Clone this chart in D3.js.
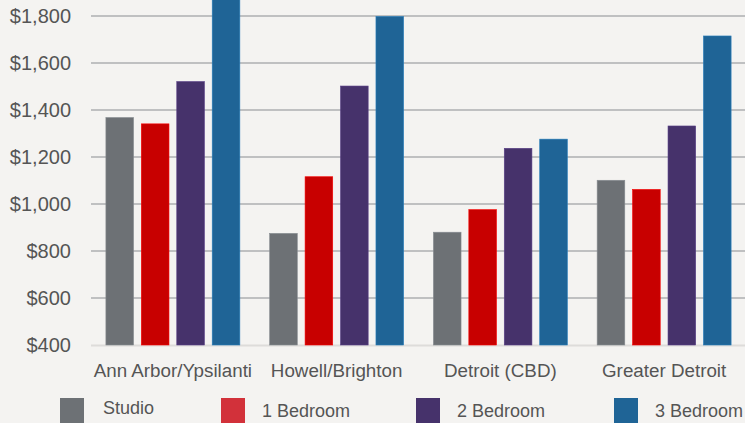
<!DOCTYPE html>
<html>
<head>
<meta charset="utf-8">
<script src="https://cdn.jsdelivr.net/npm/d3@7"></script>
<style>
	body { margin: 0; background: #f4f3f1; }
	svg { display: block; font-family: "Liberation Sans", Arial, sans-serif; }
</style>
</head>
<body>
<svg id="chart" width="745" height="423"></svg>
<script>
// data
var markets = ['Ann Arbor/Ypsilanti', 'Howell/Brighton', 'Detroit (CBD)', 'Greater Detroit'];
var unitTypes = ['Studio', '1 Bedroom', '2 Bedroom', '3 Bedroom'];
var studio = [1368, 875, 880, 1101];
var oneBed = [1341, 1116, 976, 1062];
var twoBed = [1521, 1502, 1237, 1332];
var threeBed = [1920, 1798, 1276, 1715];
var yTicks = [400, 600, 800, 1000, 1200, 1400, 1600, 1800];

var barColors = ['#6d7175', '#c80000', '#46326b', '#1f6496'];
var swatchColors = ['#6d7175', '#d2313a', '#46326b', '#1f6496'];

var series = [studio, oneBed, twoBed, threeBed];

var svg = d3.select('#chart');

// "top" is taken by window.top, so plot edges get their own names
var plotLeft = 91, plotRight = 746, plotTop = 16, plotBottom = 345;

var y = d3.scaleLinear()
	.domain([400, 1800])
	.range([plotBottom, plotTop]);

var x0 = d3.scaleBand()
	.domain(markets)
	.range([plotLeft, plotRight])
	.paddingInner(0.182)
	.paddingOuter(0.091);

var x1 = d3.scaleBand()
	.domain(unitTypes)
	.range([0, x0.bandwidth()])
	.paddingInner(0.22)
	.paddingOuter(0);

// grid lines
svg.append('g')
	.selectAll('line')
	.data(yTicks.slice(1))
	.join('line')
	.attr('x1', plotLeft)
	.attr('x2', 745)
	.attr('y1', d => y(d))
	.attr('y2', d => y(d))
	.attr('stroke', '#aeafb0')
	.attr('stroke-width', 1.3);

// base line
svg.append('line')
	.attr('x1', plotLeft)
	.attr('x2', 745)
	.attr('y1', y(400) + 0.5)
	.attr('y2', y(400) + 0.5)
	.attr('stroke', '#dddcda')
	.attr('stroke-width', 2);

// y tick labels
svg.append('g')
	.selectAll('text')
	.data(yTicks)
	.join('text')
	.attr('x', 71)
	.attr('y', d => y(d))
	.attr('dy', '0.36em')
	.attr('text-anchor', 'end')
	.attr('font-size', 20)
	.attr('fill', '#555')
	.text(d => '$' + d3.format(',')(d));

// bars
var groups = svg.append('g')
	.selectAll('g')
	.data(markets)
	.join('g')
	.attr('transform', d => `translate(${x0(d)},0)`);

groups.selectAll('rect')
	.data((d, i) => unitTypes.map((u, j) => ({ type: u, value: series[j][i], c: barColors[j] })))
	.join('rect')
	.attr('x', d => x1(d.type))
	.attr('width', x1.bandwidth())
	.attr('y', d => y(d.value))
	.attr('height', d => y(400) - y(d.value))
	.attr('fill', d => d.c)
	.attr('stroke', d => d3.color(d.c).brighter(0.6))
	.attr('stroke-width', 0.6);

// category labels
svg.append('g')
	.selectAll('text')
	.data(markets)
	.join('text')
	.attr('x', d => x0(d) + x0.bandwidth() / 2)
	.attr('y', 377)
	.attr('text-anchor', 'middle')
	.attr('font-size', 18.8)
	.attr('fill', '#555')
	.text(d => d);

// legend
var legendX = [60, 221, 416, 614];
var legend = svg.append('g')
	.selectAll('g')
	.data(unitTypes)
	.join('g')
	.attr('transform', (d, i) => `translate(${legendX[i]},398)`);

legend.append('rect')
	.attr('width', 24)
	.attr('height', 25)
	.attr('fill', (d, i) => swatchColors[i]);

legend.append('text')
	.attr('x', (d, i) => i == 0 ? 43 : 41)
	.attr('y', (d, i) => i == 0 ? 16 : 19)
	.attr('font-size', 18)
	.attr('fill', '#555')
	.text(d => d);
</script>
</body>
</html>
